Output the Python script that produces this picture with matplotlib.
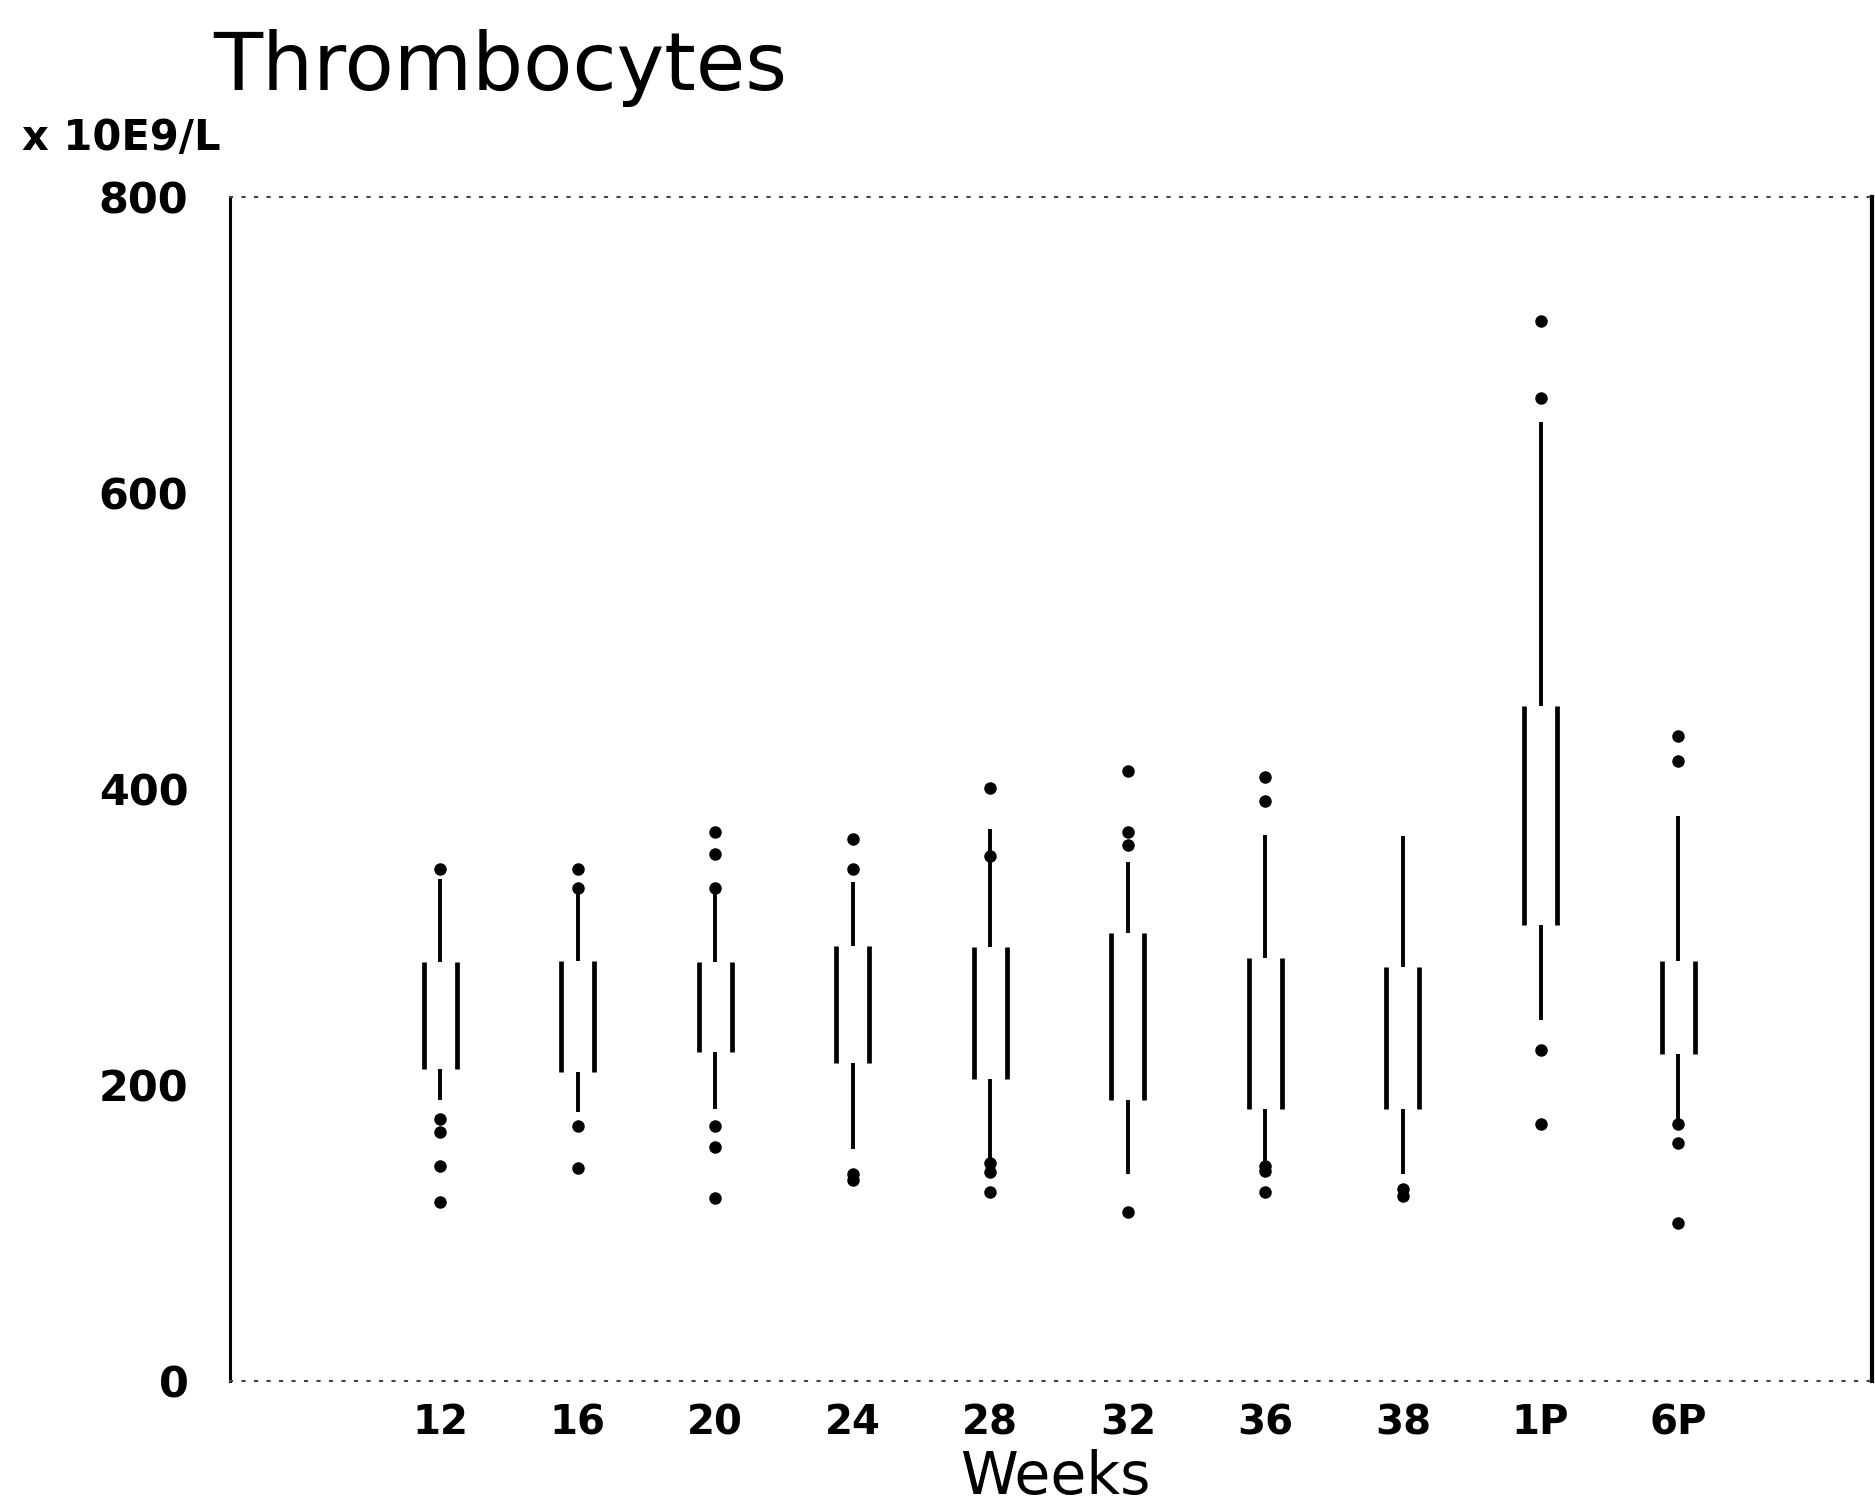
import matplotlib
matplotlib.use("Agg")
import matplotlib.pyplot as plt
import numpy as np

# ---- data ----
weeks = ["12", "16", "20", "24", "28", "32", "36", "38", "1P", "6P"]
q1 = [211, 209, 222, 215, 204, 190, 184, 184, 308, 221]
q3 = [283, 284, 283, 294, 293, 303, 286, 280, 456, 284]
whis_hi = [339, 332, 330, 337, 373, 351, 369, 368, 648, 382]
whis_lo = [190, 182, 184, 157, 143, 140, 148, 140, 244, 176]
fliers_hi = [[346], [346, 333], [371, 356, 333], [366, 346], [401, 355],
             [412, 371, 362], [408, 392], [], [716, 664], [436, 419]]
fliers_lo = [[177, 168, 145, 121], [172, 144], [172, 158, 124], [140, 136],
             [147, 141, 128], [114], [145, 142, 128], [130, 125], [224, 174],
             [174, 161, 107]]
yticks = [0, 200, 400, 600, 800]

fig = plt.figure(figsize=(18.75, 15.10), dpi=100)
ax = fig.add_axes([0.1227, 0.0854, 0.8757, 0.7841])

pos = np.arange(1, len(weeks) + 1)
half = 0.12

# whiskers
ax.vlines(pos, q3, whis_hi, color="black", lw=2.8)
ax.vlines(pos, whis_lo, q1, color="black", lw=2.8)
# box sides (open boxes: only vertical edges)
ax.vlines(pos - half, q1, q3, color="black", lw=3.4)
ax.vlines(pos + half, q1, q3, color="black", lw=3.4)
# outliers
for p, fh, fl in zip(pos, fliers_hi, fliers_lo):
    vals = fh + fl
    ax.plot([p] * len(vals), vals, "o", color="black", ms=9, mew=0)

ax.set_xlim(-0.527, 11.41)
ax.set_ylim(0, 800)
ax.set_xticks(pos)
ax.set_xticklabels(weeks, fontsize=29, fontweight="bold")
ax.set_yticks(yticks)
ax.set_yticklabels([str(v) for v in yticks], fontsize=31, fontweight="bold")
ax.tick_params(axis="both", length=0)
ax.tick_params(axis="y", pad=30)
ax.tick_params(axis="x", pad=16)

ax.spines["left"].set_linewidth(2.2)
ax.spines["right"].set_linewidth(3.0)
for s in ("top", "bottom"):
    ax.spines[s].set_linestyle((0, (1, 5)))
    ax.spines[s].set_color("#444444")
    ax.spines[s].set_linewidth(1.5)

fig.text(213 / 1875, 1 - 90 / 1510, "Thrombocytes", fontsize=58,
         ha="left", va="baseline")
fig.text(22 / 1875, 1 - 150 / 1510, "x 10E9/L", fontsize=30,
         fontweight="bold", ha="left", va="baseline")
fig.text(1055 / 1875, 1 - 1494 / 1510, "Weeks", fontsize=42,
         ha="center", va="baseline")

fig.savefig("out.png", dpi=100, facecolor="white")
